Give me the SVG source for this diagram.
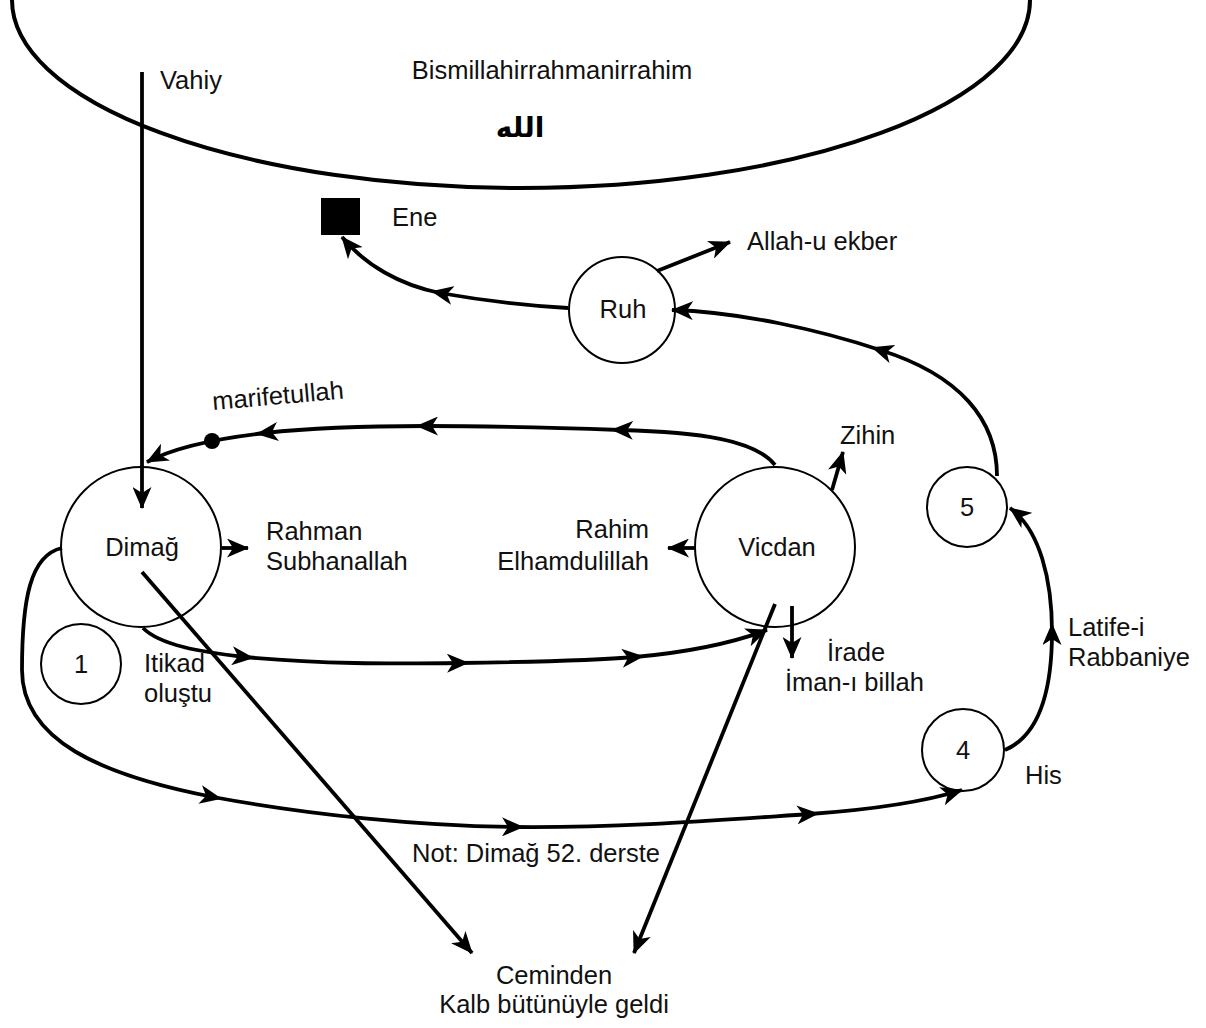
<svg xmlns="http://www.w3.org/2000/svg" width="1206" height="1028" viewBox="0 0 1206 1028">
<style>
.t{font-family:"Liberation Sans",Arial,sans-serif;font-size:25.5px;fill:#111}
.n{fill:#fff;stroke:#000;stroke-width:2}
.c{fill:none;stroke:#000;stroke-width:3.8}
</style>
<defs>
<marker id="ah" markerUnits="userSpaceOnUse" viewBox="0 0 22 19" markerWidth="22" markerHeight="19" refX="21" refY="9.5" orient="auto"><path d="M0,0 L22,9.5 L0,19 L6,9.5 z" fill="#000"/></marker>
<marker id="am" markerUnits="userSpaceOnUse" viewBox="0 0 22 19" markerWidth="22" markerHeight="19" refX="13" refY="9.5" orient="auto"><path d="M0,0 L22,9.5 L0,19 L6,9.5 z" fill="#000"/></marker>
</defs>
<rect width="1206" height="1028" fill="#fff"/>
<g id="heaven">
<ellipse cx="521" cy="0" rx="509" ry="188" fill="none" stroke="#000" stroke-width="4"/>
<text class="t" x="552" y="79" text-anchor="middle">Bismillahirrahmanirrahim</text>
<text x="520" y="137" text-anchor="middle" font-family="'DejaVu Sans',sans-serif" font-size="28" font-weight="bold">الله</text>
</g>
<g id="ene"><rect x="321" y="198" width="39" height="37" fill="#000"/><text class="t" x="392" y="226">Ene</text></g>
<g id="ruh"><circle class="n" cx="622" cy="310" r="53"/><text class="t" x="623" y="318" text-anchor="middle">Ruh</text></g>
<g id="dimag"><circle class="n" cx="141" cy="547" r="80"/><text class="t" x="142" y="556" text-anchor="middle">Dimağ</text></g>
<g id="vicdan"><circle class="n" cx="775" cy="547" r="80"/><text class="t" x="777" y="556" text-anchor="middle">Vicdan</text></g>
<g id="n1"><circle class="n" cx="81" cy="664" r="40"/><text class="t" x="81" y="673" text-anchor="middle">1</text></g>
<g id="n5"><circle class="n" cx="967" cy="507" r="40"/><text class="t" x="967" y="516" text-anchor="middle">5</text></g>
<g id="n4"><circle class="n" cx="963" cy="750" r="41"/><text class="t" x="963" y="759" text-anchor="middle">4</text></g>
<g id="connectors">
<path class="c" d="M142,72 L142,508" marker-end="url(#ah)"/>
<path class="c" d="M775,465 C755,440 700,432 620,430 C560,428 490,426 425,426 C360,426 310,428 265,433 C220,438 175,447 147,462" marker-mid="url(#am)" marker-end="url(#ah)"/>
<circle cx="212" cy="441" r="8" fill="#000"/>
<path class="c" d="M143,628 C160,645 200,652 245,657 C320,664 390,664 460,663 C530,662 590,661 635,657 C690,652 735,642 767,630" marker-mid="url(#am)" marker-end="url(#ah)"/>
<path class="c" d="M62,548 C30,555 22,600 22,670 C22,740 100,775 213,797" marker-end="url(#am)"/>
<path class="c" d="M213,797 C310,815 420,826 515,827 C620,828 720,820 810,814 C880,809 930,800 962,790" marker-mid="url(#am)" marker-end="url(#ah)"/>
<path class="c" d="M568,308 C530,306 480,300 440,293 C400,285 365,265 342,237" marker-mid="url(#am)" marker-end="url(#ah)"/>
<path class="c" d="M657,271 L730,242" marker-end="url(#ah)"/>
<path class="c" d="M997,476 C997,420 960,375 880,350 C820,330 740,312 672,310" marker-mid="url(#am)" marker-end="url(#ah)"/>
<path class="c" d="M1005,750 C1040,735 1052,690 1052,632 C1052,580 1040,530 1010,508" marker-mid="url(#am)" marker-end="url(#ah)"/>
<path class="c" d="M222,548 L248,548" marker-end="url(#ah)"/>
<path class="c" d="M695,548 L668,548" marker-end="url(#ah)"/>
<path class="c" d="M832,490 L843,452" marker-end="url(#ah)"/>
<path class="c" d="M792,606 L792,658" marker-end="url(#ah)"/>
<path class="c" d="M142,572 L472,953" marker-end="url(#ah)"/>
<path class="c" d="M775,604 L634,953" marker-end="url(#ah)"/>
</g>
<g id="labels">
<text class="t" x="160" y="89">Vahiy</text>
<text class="t" x="747" y="250">Allah-u ekber</text>
<text class="t" x="213" y="410" transform="rotate(-5 213 410)">marifetullah</text>
<text class="t" x="840" y="444">Zihin</text>
<text class="t" x="266" y="540">Rahman</text>
<text class="t" x="266" y="570">Subhanallah</text>
<text class="t" x="649" y="538" text-anchor="end">Rahim</text>
<text class="t" x="649" y="570" text-anchor="end">Elhamdulillah</text>
<text class="t" x="827" y="661">İrade</text>
<text class="t" x="785" y="691">İman-ı billah</text>
<text class="t" x="144" y="672">Itikad</text>
<text class="t" x="144" y="702">oluştu</text>
<text class="t" x="1068" y="636">Latife-i</text>
<text class="t" x="1068" y="666">Rabbaniye</text>
<text class="t" x="1025" y="784">His</text>
<text class="t" x="412" y="862">Not: Dimağ 52. derste</text>
<text class="t" x="554" y="984" text-anchor="middle">Ceminden</text>
<text class="t" x="554" y="1013" text-anchor="middle">Kalb bütünüyle geldi</text>
</g>
</svg>
